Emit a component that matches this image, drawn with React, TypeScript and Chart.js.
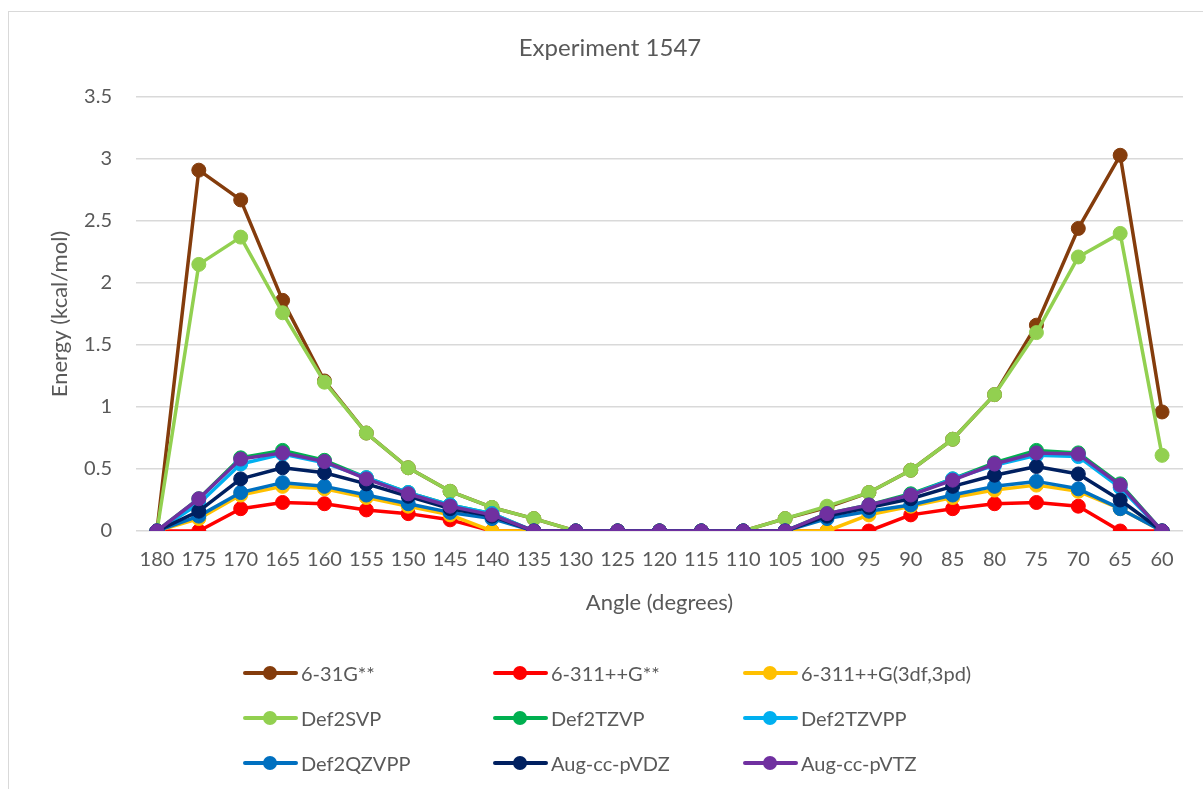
import React, { useEffect, useRef } from 'react';
import { Chart, registerables } from 'chart.js';

Chart.register(...registerables);

// Dihedral angle scan, degrees
const angleLabels = [
  '180', '175', '170', '165', '160', '155', '150', '145', '140', '135', '130', '125', '120',
  '115', '110', '105', '100', '95', '90', '85', '80', '75', '70', '65', '60',
];

// Relative energies (kcal/mol) per basis set
const e631Gss = [0, 2.91, 2.67, 1.86, 1.21, 0.79, 0.51, 0.32, 0.19, 0.1, 0, 0, 0, 0, 0, 0.1, 0.19, 0.31, 0.49, 0.74, 1.1, 1.66, 2.44, 3.03, 0.96];
const e6311ppGss = [0, 0, 0.18, 0.23, 0.22, 0.17, 0.14, 0.09, 0, 0, 0, 0, 0, 0, 0, 0, 0, 0, 0.13, 0.18, 0.22, 0.23, 0.2, 0, 0];
const e6311ppG3df = [0, 0.1, 0.29, 0.36, 0.34, 0.27, 0.2, 0.13, 0, 0, 0, 0, 0, 0, 0, 0, 0, 0.13, 0.2, 0.27, 0.33, 0.37, 0.32, 0.18, 0];
const eDef2SVP = [0, 2.15, 2.37, 1.76, 1.2, 0.79, 0.51, 0.32, 0.19, 0.1, 0, 0, 0, 0, 0, 0.1, 0.2, 0.31, 0.49, 0.74, 1.1, 1.6, 2.21, 2.4, 0.61];
const eDef2TZVP = [0, 0.26, 0.59, 0.65, 0.57, 0.43, 0.31, 0.21, 0.14, 0, 0, 0, 0, 0, 0, 0, 0.14, 0.21, 0.3, 0.42, 0.55, 0.65, 0.63, 0.38, 0];
const eDef2TZVPP = [0, 0.22, 0.54, 0.62, 0.55, 0.43, 0.31, 0.21, 0.14, 0, 0, 0, 0, 0, 0, 0, 0.13, 0.2, 0.29, 0.42, 0.53, 0.61, 0.6, 0.35, 0];
const eDef2QZVPP = [0, 0.12, 0.31, 0.39, 0.36, 0.29, 0.22, 0.15, 0.1, 0, 0, 0, 0, 0, 0, 0, 0.1, 0.16, 0.21, 0.29, 0.36, 0.4, 0.34, 0.18, 0];
const eAugDZ = [0, 0.16, 0.42, 0.51, 0.47, 0.38, 0.28, 0.18, 0.12, 0, 0, 0, 0, 0, 0, 0, 0.12, 0.19, 0.26, 0.36, 0.45, 0.52, 0.46, 0.25, 0];
const eAugTZ = [0, 0.26, 0.58, 0.63, 0.56, 0.42, 0.3, 0.2, 0.13, 0, 0, 0, 0, 0, 0, 0, 0.14, 0.21, 0.29, 0.41, 0.54, 0.63, 0.62, 0.37, 0];

const seriesNames = [
  '6-31G**', '6-311++G**', '6-311++G(3df,3pd)',
  'Def2SVP', 'Def2TZVP', 'Def2TZVPP',
  'Def2QZVPP', 'Aug-cc-pVDZ', 'Aug-cc-pVTZ',
];
const seriesValues = [
  e631Gss, e6311ppGss, e6311ppG3df,
  eDef2SVP, eDef2TZVP, eDef2TZVPP,
  eDef2QZVPP, eAugDZ, eAugTZ,
];
const seriesColors = [
  '#843C0C', '#FF0000', '#FFC000',
  '#92D050', '#00B050', '#00B0F0',
  '#0070C0', '#002060', '#7030A0',
];

const yTicks = [0, 0.5, 1, 1.5, 2, 2.5, 3, 3.5];

const FONT = 'Lato, "Open Sans", "DejaVu Sans", sans-serif';
const TEXT = '#595959';
const GRID = '#d9d9d9';

function Legend() {
  return (
    <div
      style={{
        position: 'absolute',
        left: 234,
        top: 638,
        display: 'grid',
        gridTemplateColumns: '250px 250px 250px',
        gridAutoRows: '45px',
        fontFamily: FONT,
        fontSize: 20,
        color: TEXT,
      }}
    >
      {seriesNames.map((name, i) => (
        <div key={name} style={{ display: 'flex', alignItems: 'center', height: 45 }}>
          <span style={{ position: 'relative', width: 55, height: 14, display: 'inline-block', flex: 'none' }}>
            <span
              style={{
                position: 'absolute', left: 0, top: 5, width: 55, height: 4,
                borderRadius: 2, background: seriesColors[i],
              }}
            />
            <span
              style={{
                position: 'absolute', left: 20, top: 0, width: 14, height: 14,
                borderRadius: '50%', background: seriesColors[i],
              }}
            />
          </span>
          <span style={{ marginLeft: 3, whiteSpace: 'nowrap' }}>{name}</span>
        </div>
      ))}
    </div>
  );
}

export default function App() {
  const canvasRef = useRef<HTMLCanvasElement | null>(null);

  useEffect(() => {
    if (!canvasRef.current) return;
    const n = seriesNames.length;
    const chart = new Chart(canvasRef.current, {
      type: 'line',
      data: {
        labels: angleLabels,
        datasets: seriesNames.map((name, i) => ({
          label: name,
          data: seriesValues[i],
          borderColor: seriesColors[i],
          backgroundColor: seriesColors[i],
          pointBackgroundColor: seriesColors[i],
          pointBorderColor: seriesColors[i],
          borderWidth: 3.5,
          pointRadius: 7,
          pointBorderWidth: 1,
          pointHoverRadius: 7,
          borderJoinStyle: 'round' as const,
          borderCapStyle: 'round' as const,
          tension: 0,
          fill: false,
          // later series sit on top
          order: n - 1 - i,
        })),
      },
      options: {
        responsive: false,
        animation: false,
        devicePixelRatio: 1,
        layout: { padding: { left: 28, right: 20, top: 0, bottom: 168 } },
        plugins: {
          legend: { display: false },
          tooltip: { enabled: false },
          title: {
            display: true,
            text: 'Experiment 1547',
            color: TEXT,
            font: { family: FONT, size: 24, weight: 'normal' },
            padding: { top: 21.6, bottom: 34.6 },
          },
        },
        scales: {
          x: {
            type: 'category',
            offset: true,
            grid: { display: false, drawTicks: false },
            border: { display: false },
            ticks: {
              color: TEXT,
              font: { family: FONT, size: 20 },
              autoSkip: false,
              maxRotation: 0,
              minRotation: 0,
              padding: 17,
            },
            title: {
              display: true,
              text: 'Angle (degrees)',
              color: TEXT,
              font: { family: FONT, size: 22 },
              padding: { top: 0, bottom: 4.8 },
            },
            afterFit: (scale: any) => { scale.height = 90; },
          },
          y: {
            min: 0,
            max: 3.5,
            grid: { color: GRID, lineWidth: 1.5, drawTicks: false },
            border: { display: false },
            afterBuildTicks: (scale: any) => {
              scale.ticks = yTicks.map((v) => ({ value: v }));
            },
            ticks: {
              color: TEXT,
              font: { family: FONT, size: 20 },
              padding: 24,
              callback: (value: any) => String(value),
            },
            title: {
              display: true,
              text: 'Energy (kcal/mol)',
              color: TEXT,
              font: { family: FONT, size: 22 },
              padding: { top: 9.8, bottom: 0 },
            },
            afterFit: (scale: any) => { scale.width = 99; },
          },
        },
      },
    });
    return () => chart.destroy();
  }, []);

  return (
    <div
      style={{
        position: 'fixed',
        left: 8,
        top: 11,
        width: 1195,
        height: 778,
        boxSizing: 'border-box',
        borderTop: `1px solid ${GRID}`,
        borderLeft: `1px solid ${GRID}`,
        background: '#fff',
        overflow: 'hidden',
      }}
    >
      <canvas ref={canvasRef} width={1194} height={777} style={{ display: 'block', width: 1194, height: 777 }} />
      <Legend />
    </div>
  );
}
